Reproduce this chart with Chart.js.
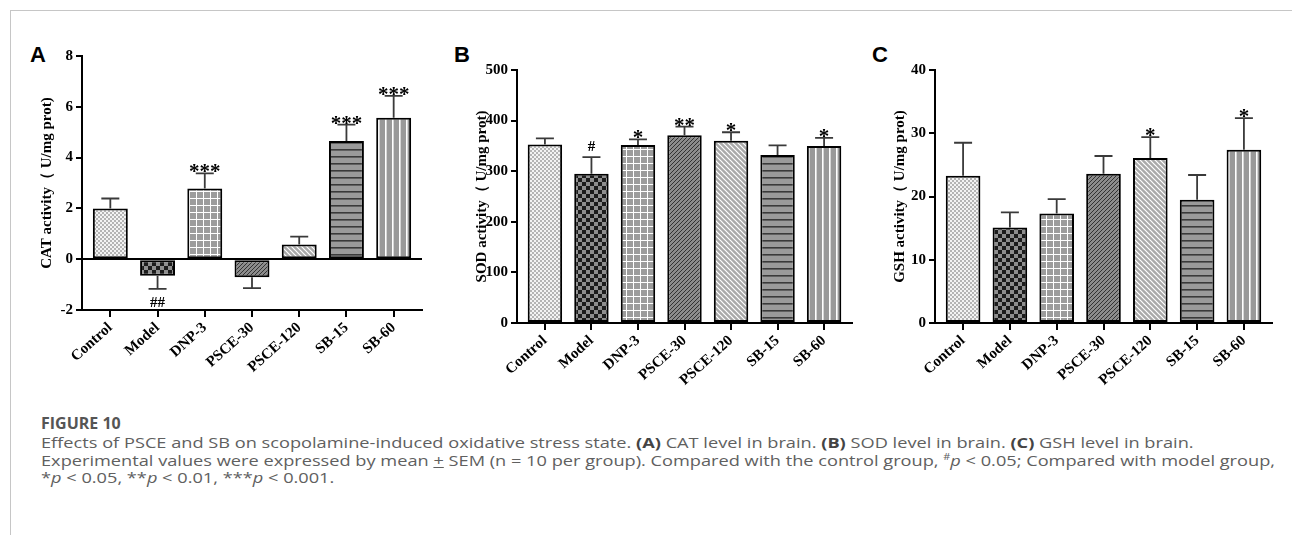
<!DOCTYPE html>
<html lang="en">
<head>
<meta charset="UTF-8">
<title>Figure 10</title>
<script src="https://cdn.jsdelivr.net/npm/chart.js@4.4.1/dist/chart.umd.min.js"></script>
<style>
  body { margin: 0; background: #fff; width: 1292px; height: 535px; overflow: hidden; position: relative; }
  .frame { position: absolute; left: 10px; top: 10px; right: 0; bottom: 0; border-left: 1px solid #c6c6c6; border-top: 1px solid #c6c6c6; }
  .panel { position: absolute; }
  .letter { position: absolute; font: bold 22px "Liberation Sans", Arial, sans-serif; color: #000; line-height: 22px; }
  .fig { position: absolute; left: 41px; top: 413px; font: bold 16px "Open Sans", sans-serif; color: #555; line-height: 20px; }
  .caption { position: absolute; left: 41px; top: 434px; color: #606060; font-family: "Open Sans", sans-serif; font-size: 15px; line-height: 17.5px; white-space: nowrap; transform-origin: left top; }
  .caption b { color: #444; }
</style>
</head>
<body>
<div class="frame"></div>

<div class="letter" style="left:30px;top:44px">A</div>
<div class="letter" style="left:454px;top:44px">B</div>
<div class="letter" style="left:872px;top:44px">C</div>

<canvas id="chartA" class="panel" style="left:0px;top:30px" width="440" height="360"></canvas>
<canvas id="chartB" class="panel" style="left:430px;top:30px" width="440" height="360"></canvas>
<canvas id="chartC" class="panel" style="left:850px;top:30px" width="440" height="360"></canvas>

<div class="fig">FIGURE 10</div>
<div class="caption" id="cap">
  <div>Effects of PSCE and SB on scopolamine-induced oxidative stress state. <b>(A)</b> CAT level in brain. <b>(B)</b> SOD level in brain. <b>(C)</b> GSH level in brain.</div>
  <div id="line2">Experimental values were expressed by mean <u>+</u> SEM (n = 10 per group). Compared with the control group, <sup style="font-size:9px;line-height:0">#</sup><i>p</i> &lt; 0.05; Compared with model group,</div>
  <div>*<i>p</i> &lt; 0.05, **<i>p</i> &lt; 0.01, ***<i>p</i> &lt; 0.001.</div>
</div>

<script>
const groups = ['Control', 'Model', 'DNP-3', 'PSCE-30', 'PSCE-120', 'SB-15', 'SB-60'];

// CAT (A)
const catMean = [2.0, -0.65, 2.78, -0.71, 0.58, 4.65, 5.57];
const catSem = [0.39, 0.52, 0.6, 0.43, 0.31, 0.65, 0.86];
const catMarks = ['', '##', '***', '', '', '***', '***'];
const catTicks = [-2, 0, 2, 4, 6, 8];

// SOD (B)
const sodMean = [353, 295, 352, 371, 360, 332, 350];
const sodSem = [12, 33, 11, 17, 17, 19, 16];
const sodMarks = ['', '#', '*', '**', '*', '', '*'];
const sodTicks = [0, 100, 200, 300, 400, 500];

// GSH (C)
const gshMean = [23.3, 15.1, 17.3, 23.6, 26.1, 19.5, 27.4];
const gshSem = [5.2, 2.4, 2.3, 2.8, 3.3, 3.9, 5.0];
const gshMarks = ['', '', '', '', '*', '', '*'];
const gshTicks = [0, 10, 20, 30, 40];

const serif = '"Liberation Serif", "Times New Roman", serif';

// hatch fills, one per group
function tile(size, draw) {
  const c = document.createElement('canvas');
  c.width = c.height = size;
  const g = c.getContext('2d');
  draw(g, size);
  return g.createPattern(c, 'repeat');
}
const fills = [
  tile(4, (g) => { g.fillStyle = '#f3f3f3'; g.fillRect(0, 0, 4, 4); g.fillStyle = '#b4b4b4'; g.fillRect(0, 0, 2, 2); g.fillRect(2, 2, 2, 2); }),
  tile(8, (g) => { g.fillStyle = '#8e8e8e'; g.fillRect(0, 0, 8, 8); g.fillStyle = '#1c1c1c'; g.fillRect(0, 0, 4, 4); g.fillRect(4, 4, 4, 4); }),
  tile(7, (g) => { g.fillStyle = '#9c9c9c'; g.fillRect(0, 0, 7, 7); g.fillStyle = '#fff'; g.fillRect(0, 0, 7, 1); g.fillRect(0, 0, 1, 7); }),
  tile(4, (g) => {
    g.fillStyle = '#8c8c8c'; g.fillRect(0, 0, 4, 4);
    g.strokeStyle = '#333'; g.lineWidth = 1;
    g.beginPath(); g.moveTo(-1, 5); g.lineTo(5, -1); g.moveTo(-1, 1); g.lineTo(1, -1); g.moveTo(3, 5); g.lineTo(5, 3); g.stroke();
  }),
  tile(5, (g) => {
    g.fillStyle = '#a9a9a9'; g.fillRect(0, 0, 5, 5);
    g.strokeStyle = '#fff'; g.lineWidth = 1.2;
    g.beginPath(); g.moveTo(-1, -1); g.lineTo(6, 6); g.moveTo(-1, 4); g.lineTo(1, 6); g.moveTo(4, -1); g.lineTo(6, 1); g.stroke();
  }),
  tile(7, (g) => { g.fillStyle = '#9a9a9a'; g.fillRect(0, 0, 7, 7); g.fillStyle = '#3a3a3a'; g.fillRect(0, 0, 7, 1.6); }),
  tile(7, (g) => { g.fillStyle = '#999'; g.fillRect(0, 0, 7, 7); g.fillStyle = '#fff'; g.fillRect(0, 0, 1.6, 7); })
];

// error bars + significance marks
const errBars = {
  id: 'errBars',
  afterDatasetsDraw(chart, args, opts) {
    const { ctx, scales: { x, y } } = chart;
    const mean = chart.data.datasets[0].data;
    ctx.save();
    ctx.strokeStyle = '#3a3a3a';
    ctx.lineWidth = 1.8;
    ctx.fillStyle = '#000';
    ctx.textAlign = 'center';
    mean.forEach((p, i) => {
      const dir = p.y < 0 ? -1 : 1;
      const px = x.getPixelForValue(p.x);
      const y0 = y.getPixelForValue(p.y);
      const y1 = y.getPixelForValue(p.y + dir * opts.sem[i]);
      ctx.beginPath();
      ctx.moveTo(px, y0);
      ctx.lineTo(px, y1);
      ctx.moveTo(px - 9, y1);
      ctx.lineTo(px + 9, y1);
      ctx.stroke();
      const m = opts.marks[i];
      if (!m) return;
      if (m.startsWith('#')) {
        ctx.font = 'bold 15px ' + serif;
        if (dir < 0) { ctx.textBaseline = 'top'; ctx.fillText(m, px, y1 + 7); }
        else { ctx.textBaseline = 'alphabetic'; ctx.fillText(m, px, y1 - 6); }
      } else {
        ctx.font = 'bold 21px ' + serif;
        ctx.textBaseline = 'alphabetic';
        ctx.fillText(m, px, y1 + 5);
      }
    });
    ctx.restore();
  }
};

function makePanel(id, mean, sem, marks, ticks, title, pad, xHeight) {
  new Chart(document.getElementById(id), {
    type: 'bar',
    data: {
      datasets: [{
        data: mean.map((v, i) => ({ x: i, y: v })),
        backgroundColor: fills,
        borderColor: '#000',
        borderWidth: 2,
        borderSkipped: false,
        barPercentage: 0.74,
        categoryPercentage: 1
      }]
    },
    options: {
      responsive: false,
      animation: false,
      layout: { padding: { left: pad.left, top: pad.top, right: pad.right, bottom: 0 } },
      plugins: {
        legend: { display: false },
        tooltip: { enabled: false },
        errBars: { sem: sem, marks: marks }
      },
      scales: {
        x: {
          type: 'linear',
          offset: false,
          min: -0.6,
          max: 6.6,
          afterBuildTicks: (s) => { s.ticks = groups.map((g, i) => ({ value: i })); },
          afterFit: (s) => { s.height = xHeight; },
          border: { display: true, color: '#000', width: 2 },
          grid: { offset: false, drawOnChartArea: false, drawTicks: true, tickLength: 7, color: '#000', lineWidth: 2 },
          ticks: {
            autoSkip: false,
            minRotation: 42,
            maxRotation: 42,
            padding: 2,
            color: '#000',
            font: { family: serif, size: 15, weight: 'bold' },
            callback: (v) => groups[v]
          }
        },
        y: {
          min: ticks[0],
          max: ticks[ticks.length - 1],
          afterBuildTicks: (s) => { s.ticks = ticks.map((v) => ({ value: v })); },
          afterFit: (s) => { s.width = 48; },
          border: { display: true, color: '#000', width: 2 },
          grid: {
            drawOnChartArea: true,
            drawTicks: true,
            tickLength: 6,
            lineWidth: 2,
            tickColor: '#000',
            color: (c) => c.tick && c.tick.value === 0 ? '#000' : 'rgba(0,0,0,0)'
          },
          ticks: { color: '#000', padding: 3, font: { family: serif, size: 15, weight: 'bold' } },
          title: {
            display: true,
            text: title,
            color: '#000',
            padding: { top: 4, bottom: 4 },
            font: { family: serif, size: 15, weight: 'bold' }
          }
        }
      }
    },
    plugins: [errBars]
  });
}

makePanel('chartA', catMean, catSem, catMarks, catTicks, 'CAT activity（ U/mg prot)', { left: 34, top: 26, right: 18 }, 80);
makePanel('chartB', sodMean, sodSem, sodMarks, sodTicks, 'SOD activity（ U/mg prot)', { left: 39, top: 40, right: 18 }, 67);
makePanel('chartC', gshMean, gshSem, gshMarks, gshTicks, 'GSH activity（ U/mg prot)', { left: 37, top: 40, right: 18 }, 67);

// squeeze caption so its second line spans the same width as the reference
const cap = document.getElementById('cap');
const line2Range = document.createRange();
line2Range.selectNodeContents(document.getElementById('line2'));
const natural = line2Range.getBoundingClientRect().width;
cap.style.transform = 'scaleX(' + (1234 / natural) + ')';
</script>
</body>
</html>
